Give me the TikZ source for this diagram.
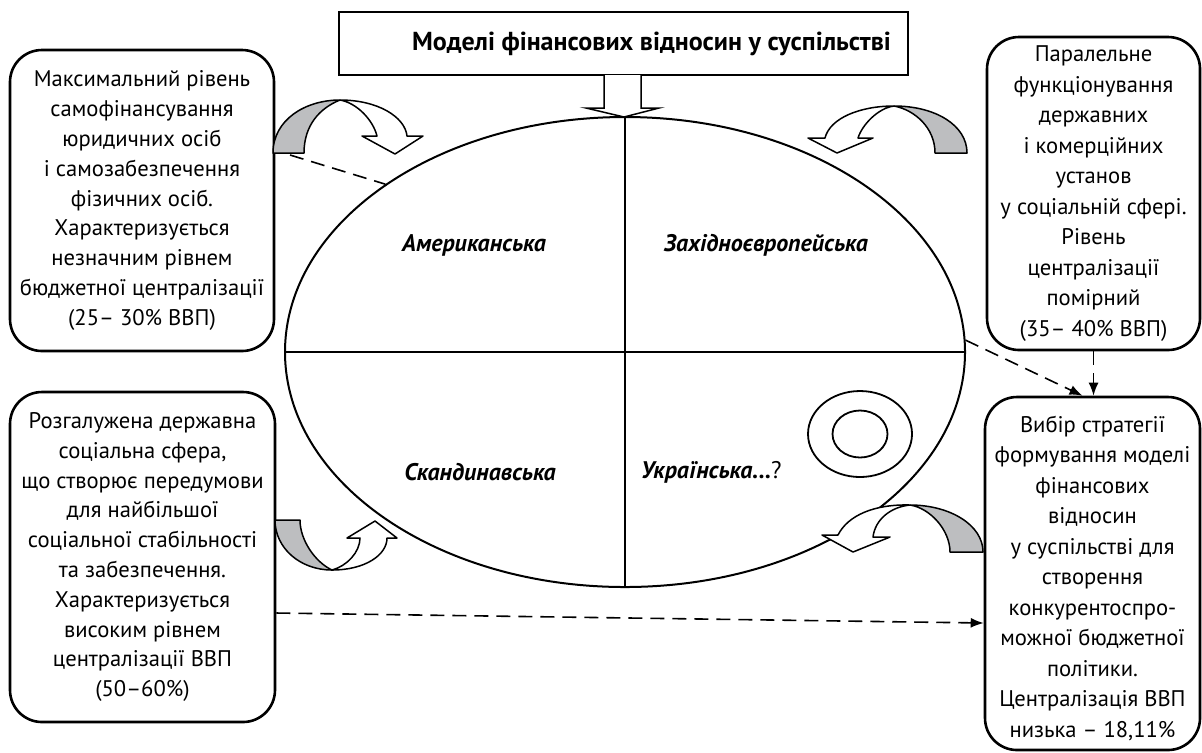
\documentclass[tikz,border=0pt]{standalone}
\usepackage{fontspec}
\setmainfont{PT Sans}
\usetikzlibrary{arrows.meta,shapes.geometric}
\definecolor{arrowgray}{HTML}{BDBEC0}
\begin{document}
\begin{tikzpicture}[x=0.5pt,y=-0.5pt,
 infobox/.style={draw, line width=1.3pt, rounded corners=16pt, align=center, inner sep=0pt, font=\fontsize{11.3}{14.9}\selectfont},
 infoboxr/.style={infobox, font=\fontsize{11.3}{15.25}\selectfont},
 quadlabel/.style={font=\fontsize{12}{13}\selectfont\bfseries\itshape},
 dashline/.style={line width=0.8pt, dash pattern=on 7pt off 4pt},
 dasharrow/.style={dashline, -{Latex[length=6.5pt,width=5pt]}},
 frontpart/.style={draw, line width=0.75pt, fill=white, line join=round},
 backpart/.style={draw, line width=0.75pt, fill=arrowgray, line join=round},
 ringshape/.style={draw, ellipse, line width=0.9pt, inner sep=0pt},
]
\useasboundingbox (0,0) rectangle (1202,752);

% title
\node[draw, line width=1pt, minimum width=284.5pt, minimum height=31.5pt, inner sep=0pt,
      font=\fontsize{13}{15}\selectfont\bfseries] (title) at (623.5,43.5)
      {\hspace*{28pt}Моделі фінансових відносин у суспільстві};

% ellipse with quadrants
\node[draw, ellipse, line width=1pt, minimum width=340pt, minimum height=235pt, inner sep=0pt] (ell) at (625,352) {};
\draw[line width=1pt] (ell.north) -- (ell.south);
\draw[line width=1pt] (ell.west) -- (ell.east);

% block arrow from title to ellipse
\draw[frontpart, line join=miter] (604,75) -- (604,108) -- (586,108) -- (624,117) -- (659,108) -- (641,108) -- (641,75);

% quadrant labels
\node[quadlabel] (am) at (474,245) {Американська};
\node[quadlabel] (we) at (766,245) {Західноєвропейська};
\node[quadlabel] (sc) at (480,472) {Скандинавська};
\node[quadlabel, anchor=west] (ua) at (634,472) {Українська...\textmd{\textup{?}}};

% target symbol
\node[ringshape, minimum width=52pt, minimum height=43pt] (tgto) at (860,434) {};
\node[ringshape, minimum width=27.5pt, minimum height=23.5pt] (tgti) at (860,434) {};

% text boxes
\node[infobox, minimum width=132pt, minimum height=150.5pt] (tl) at (142,200.5)
 {Максимальний рівень\\самофінансування\\юридичних осіб\\і самозабезпечення\\фізичних осіб.\\Характеризується\\незначним рівнем\\бюджетної централізації\\(25– 30\% ВВП)};
\node[infobox, minimum width=132.5pt, minimum height=165pt] (bl) at (142.5,557)
 {Розгалужена державна\\соціальна сфера,\\що створює передумови\\для найбільшої\\соціальної стабільності\\та забезпечення.\\Характеризується\\високим рівнем\\централізації ВВП\\(50–60\%)};
\node[infoboxr, minimum width=106.5pt, minimum height=156.5pt] (tr) at (1093.5,193.5)
 {Паралельне\\функціонування\\державних\\і комерційних\\установ\\у соціальній сфері.\\Рівень\\централізації\\помірний\\(35– 40\% ВВП)};
\node[infoboxr, minimum width=107.5pt, minimum height=176.5pt] (br) at (1092.5,573.5)
 {\rule{0pt}{13pt}Вибір стратегії\\формування моделі\\фінансових\\відносин\\у суспільстві для\\створення\\конкурентоспро-\\можної бюджетної\\політики.\\Централізація ВВП\\низька – 18,11\%};

% curved arrow top-left
\draw[backpart] (273,153) .. controls (273,120) and (305,100) .. (340,100)
  .. controls (320,108) and (304,125) .. (304,153) -- cycle;
\draw[frontpart] (340,100) .. controls (378,100) and (405,117) .. (407,136)
  -- (423,136) -- (395,154) -- (362,136) -- (377,136)
  .. controls (373,120) and (357,103) .. (340,100) -- cycle;

% curved arrow top-right
\draw[backpart] (967,153) .. controls (967,125) and (935,106) .. (894,106)
  .. controls (915,110) and (935,128) .. (935,153) -- cycle;
\draw[frontpart] (894,106) .. controls (860,106) and (830,118) .. (825,138)
  -- (808,138) -- (837,153) -- (873,138) -- (858,138)
  .. controls (862,125) and (878,108) .. (894,106) -- cycle;

% curved arrow bottom-left
\draw[backpart] (275,520) .. controls (275,548) and (300,570) .. (332,570)
  .. controls (315,562) and (300,540) .. (300,520) -- cycle;
\draw[frontpart] (332,570) .. controls (365,570) and (387,555) .. (387,538)
  -- (397,538) -- (375,521) -- (347,538) -- (360,538)
  .. controls (360,552) and (347,566) .. (332,570) -- cycle;

% curved arrow bottom-right
\draw[backpart] (983,552) .. controls (983,525) and (950,505) .. (910,505)
  .. controls (930,508) and (950,530) .. (950,552) -- cycle;
\draw[frontpart] (910,505) .. controls (875,504) and (848,515) .. (838,535)
  -- (822,535) -- (853,552) -- (890,537) -- (873,537)
  .. controls (875,520) and (890,507) .. (910,505) -- cycle;

% dashed connectors
\coordinate (tltail) at (290,155);
\draw[dashline] (tltail) -- (ell.145.7);
\draw[dasharrow] (ell.2) -- ([xshift=-5pt]br.north);
\draw[dasharrow] (tr.south) -- (tr.south |- br.north);
\draw[dasharrow] (bl.east |- 0,613) -- (br.west |- 0,623);
\end{tikzpicture}
\end{document}
